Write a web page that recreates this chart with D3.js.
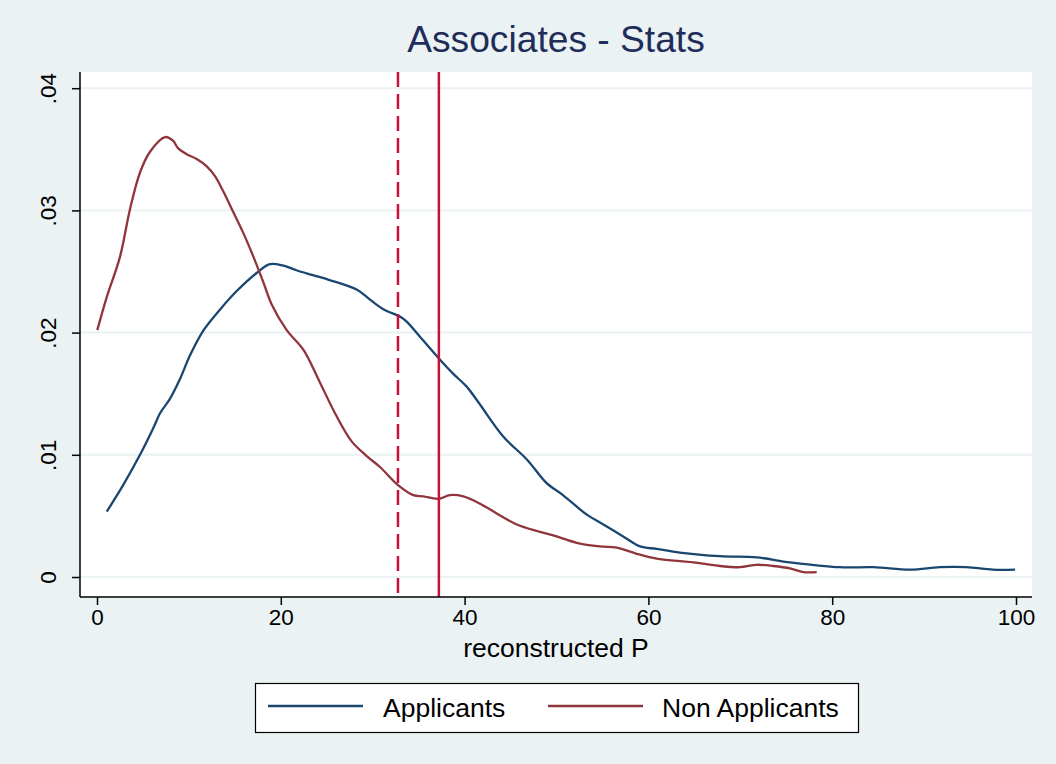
<!DOCTYPE html>
<html><head><meta charset="utf-8">
<script src="https://cdn.jsdelivr.net/npm/d3@7"></script>
<style>body{margin:0;background:#eaf2f3;} svg{display:block;}</style>
</head><body>
<script>
const applicantsX = [1.06,2.86,4.68,6.13,6.86,7.95,9.03,10.1,11.6,13.4,15.2,17.4,18.8,20.2,21.7,23.5,25.3,28.3,29.7,31.2,33.0,33.7,35.1,37.3,38.8,40.2,41.5,44.2,46.8,48.9,50.7,53.3,55.1,57.3,59.1,60.9,63.4,67.8,71.8,75.4,80.8,84.5,88.5,91.7,94.6,97.5,99.9];
const applicantsY = [0.00535,0.00754,0.0100,0.0122,0.0134,0.0146,0.0162,0.0181,0.0202,0.0219,0.0234,0.0249,0.0256,0.0255,0.0251,0.0247,0.0243,0.0235,0.0227,0.0219,0.0213,0.0209,0.0197,0.0178,0.0166,0.0156,0.0143,0.0115,0.0096,0.0077,0.0067,0.0051,0.0043,0.0033,0.0025,0.0023,0.0020,0.0017,0.0016,0.0012,0.0008,0.0008,0.0006,0.0008,0.0008,0.0006,0.0006];
const nonApplicantsX = [0.03,1.06,2.50,3.59,4.68,5.77,7.40,8.27,8.81,9.76,10.85,11.94,12.84,13.71,14.80,15.89,16.97,18.06,19.01,20.64,22.45,24.27,25.90,27.71,29.35,30.79,32.79,34.42,35.51,37.14,38.41,39.86,41.68,43.49,45.67,48.20,49.65,52.20,54.73,56.55,58.73,60.90,63.44,64.89,67.79,69.97,71.78,73.59,75.41,76.86,78.31];
const nonApplicantsY = [0.0202,0.0229,0.0262,0.0301,0.0331,0.0348,0.0360,0.0357,0.0351,0.0346,0.0342,0.0336,0.0328,0.0316,0.0299,0.0282,0.0263,0.0242,0.0223,0.0202,0.0186,0.0159,0.0134,0.0111,0.0099,0.0090,0.0075,0.0067,0.0066,0.0064,0.0067,0.0066,0.0060,0.0052,0.0043,0.0037,0.0034,0.0028,0.0025,0.0024,0.0019,0.0015,0.0013,0.0012,0.0009,0.0008,0.0010,0.0009,0.0007,0.0004,0.0004];
const xTicks = [0,20,40,60,80,100];
const yTicks = [0,0.01,0.02,0.03,0.04];
const yTickLabels = ["0",".01",".02",".03",".04"];
const refLines = [{x:32.75, dashed:true},{x:37.2, dashed:false}];
const seriesNames = ["Applicants","Non Applicants"];
const seriesColors = ["#1a476f","#90353b"];

const W=1056,H=764;
const svg=d3.select("body").append("svg").attr("width",W).attr("height",H);
const font="Arial, 'Liberation Sans', Helvetica, sans-serif";
svg.append("rect").attr("width",W).attr("height",H).attr("fill","#eaf2f3");

const pl=80, pr=1032, pt=72, pb=597;
const x=d3.scaleLinear().domain([0,100]).range([97,1016]);
const y=d3.scaleLinear().domain([0,0.04]).range([577,88.2]);

svg.append("rect").attr("x",pl).attr("y",pt).attr("width",pr-pl).attr("height",pb-pt).attr("fill","#fff");

// gridlines
svg.append("g").selectAll("line").data(yTicks).join("line")
 .attr("x1",pl).attr("x2",pr).attr("y1",d=>y(d)).attr("y2",d=>y(d))
 .attr("stroke","#eaf2f3").attr("stroke-width",2);

// series
const line=d3.line().x(d=>x(d[0])).y(d=>y(d[1])).curve(d3.curveCatmullRom.alpha(0.5));
const s1=applicantsX.map((v,i)=>[v,applicantsY[i]]);
const s2=nonApplicantsX.map((v,i)=>[v,nonApplicantsY[i]]);
[s1,s2].forEach((s,i)=>{
 svg.append("path").datum(s).attr("d",line).attr("fill","none")
  .attr("stroke",seriesColors[i]).attr("stroke-width",2.3).attr("stroke-linejoin","round");
});

// reference lines
svg.append("g").selectAll("line").data(refLines).join("line")
 .attr("x1",d=>x(d.x)).attr("x2",d=>x(d.x)).attr("y1",pt).attr("y2",pb)
 .attr("stroke","#c8103a").attr("stroke-width",2.5)
 .attr("stroke-dasharray",d=>d.dashed?"15,7":null);

// axes
const yAxis=d3.axisLeft(y).tickValues(yTicks).tickSize(8).tickFormat((d,i)=>yTickLabels[i]);
const gy=svg.append("g").attr("transform",`translate(${pl},0)`).call(yAxis);
gy.select(".domain").attr("d",`M0,${pt}V${pb}`).attr("stroke","#000").attr("stroke-width",1.5);
gy.selectAll(".tick line").attr("stroke","#000").attr("stroke-width",1.5);
gy.selectAll(".tick text").attr("font-family",font).attr("font-size",22.5).attr("fill","#000")
 .attr("text-anchor","middle").attr("x",0).attr("y",0).attr("dy","0")
 .attr("transform","translate(-24,0) rotate(-90)");

const xAxis=d3.axisBottom(x).tickValues(xTicks).tickSize(8).tickFormat(d3.format("d"));
const gx=svg.append("g").attr("transform",`translate(0,${pb})`).call(xAxis);
gx.select(".domain").attr("d",`M${pl},0H${pr}`).attr("stroke","#000").attr("stroke-width",1.5);
gx.selectAll(".tick line").attr("stroke","#000").attr("stroke-width",1.5);
gx.selectAll(".tick text").attr("font-family",font).attr("font-size",22.5).attr("fill","#000").attr("y",12).attr("dy","0.71em");

svg.append("text").attr("x",556).attr("y",657).attr("text-anchor","middle")
 .attr("font-family",font).attr("font-size",26.5).attr("fill","#000").text("reconstructed P");

svg.append("text").attr("x",556).attr("y",52).attr("text-anchor","middle")
 .attr("font-family",font).attr("font-size",37.2).attr("fill","#1f2d5a").text("Associates - Stats");

// legend
const lg=svg.append("g");
lg.append("rect").attr("x",255.5).attr("y",683.5).attr("width",603).attr("height",49).attr("fill","#fff").attr("stroke","#000").attr("stroke-width",1.2);
const legItems=[{x1:268,x2:363,tx:383},{x1:548,x2:643,tx:662}];
legItems.forEach((it,i)=>{
 lg.append("line").attr("x1",it.x1).attr("x2",it.x2).attr("y1",706).attr("y2",706).attr("stroke",seriesColors[i]).attr("stroke-width",2.3);
 lg.append("text").attr("x",it.tx).attr("y",717).attr("font-family",font).attr("font-size",26.5).attr("fill","#000").text(seriesNames[i]);
});
</script>
</body></html>
